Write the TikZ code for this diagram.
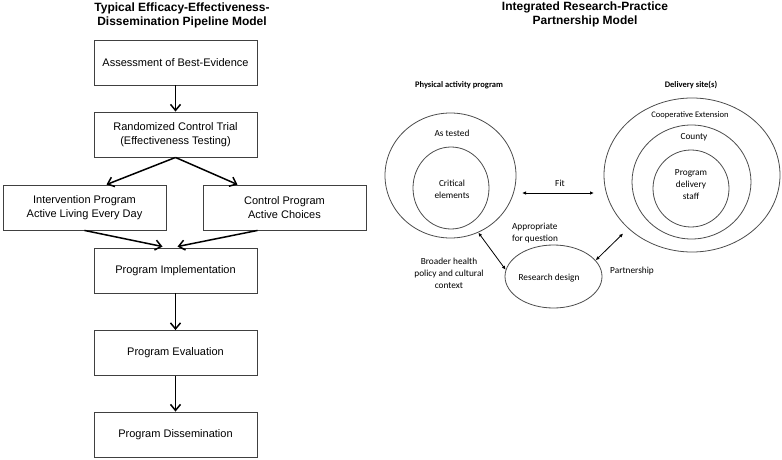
\documentclass[tikz,border=0pt]{standalone}
\usepackage{fontspec}
\setmainfont{Liberation Sans}
\newfontfamily\calibrifont{Carlito}
\usetikzlibrary{arrows.meta,shapes.geometric}
\begin{document}
\begin{tikzpicture}[x=1pt, y=-1pt,
  heading/.style={align=center, inner sep=0pt, font=\bfseries\fontsize{12}{13.4}\selectfont},
  stepbox/.style={draw=black!75, line width=0.9pt, minimum width=163pt, minimum height=45pt,
    align=center, inner sep=0pt, font=\fontsize{11}{13.5}\selectfont},
  flow/.style={line width=1.5pt, -{Straight Barb[length=6pt,width=10pt]}},
  ring/.style={draw=black!70, line width=0.8pt, ellipse, inner sep=0pt},
  lbl/.style={align=center, inner sep=0pt, font=\calibrifont\fontsize{9.3}{12}\selectfont},
  head/.style={lbl, font=\calibrifont\bfseries\fontsize{8.5}{10}\selectfont},
  link/.style={line width=0.8pt, {Latex[length=4pt,width=3.5pt]}-{Latex[length=4pt,width=3.5pt]}}]
  \useasboundingbox (0,0) rectangle (782,460);

  \node[heading] (lefttitle) at (182,15.5) {Typical Efficacy-Effectiveness-\\Dissemination Pipeline Model};
  \node[heading] (righttitle) at (585,14.5) {Integrated Research-Practice\\Partnership Model};

  \node[stepbox] (assess) at (175.5,62.5) {Assessment of Best-Evidence};
  \node[stepbox] (rct) at (175.5,134.5) {Randomized Control Trial\\(Effectiveness Testing)};
  \node[stepbox] (interv) at (84.5,207.5) {Intervention Program\\Active Living Every Day};
  \node[stepbox] (control) at (284.5,207.5) {Control Program\\Active Choices};
  \node[stepbox] (impl) at (175.5,270.5) {Program Implementation};
  \node[stepbox] (eval) at (175.5,353) {Program Evaluation};
  \node[stepbox] (dissem) at (175.5,434.5) {Program Dissemination};

  \draw[flow] (assess) -- (rct);
  \draw[flow] (rct.south) -- ([xshift=22pt]interv.north);
  \draw[flow] (rct.south) -- ([xshift=-47pt]control.north);
  \draw[flow] (interv.south) -- ([xshift=-13pt,yshift=1pt]impl.north);
  \draw[flow] ([xshift=-27pt]control.south) -- ([xshift=2pt,yshift=1pt]impl.north);
  \draw[flow] (impl) -- (eval);
  \draw[flow] (eval) -- (dissem);

  \node[ring, minimum width=131pt, minimum height=125pt] (tested) at (450.5,175.5) {};
  \node[ring, minimum width=76pt, minimum height=82pt] (critical) at (451,188) {};
  \node[ring, minimum width=176pt, minimum height=154pt] (coop) at (692,175) {};
  \node[ring, minimum width=119pt, minimum height=114pt] (county) at (691.5,182) {};
  \node[ring, minimum width=76pt, minimum height=77pt] (staff) at (691,188.5) {};
  \node[ring, minimum width=97pt, minimum height=63pt] (design) at (553.5,276.5) {};

  \node[head] (progtxt) at (459,85) {Physical activity program};
  \node[head] (sitetxt) at (691,85) {Delivery site(s)};
  \node[lbl] (testedtxt) at (452,133) {As tested};
  \node[lbl] (criticaltxt) at (452,189) {Critical\\elements};
  \node[lbl, font=\calibrifont\fontsize{8.5}{10}\selectfont] (cooptxt) at (690,115) {Cooperative Extension};
  \node[lbl] (countytxt) at (694,137) {County};
  \node[lbl] (stafftxt) at (691,185) {Program\\delivery\\staff};
  \node[lbl] (fittxt) at (560,183) {Fit};
  \node[lbl, align=left] (questiontxt) at (535,233) {Appropriate\\for question};
  \node[lbl] (designtxt) at (549,278) {Research design};
  \node[lbl] (policytxt) at (449,273) {Broader health\\policy and cultural\\context};
  \node[lbl] (partnertxt) at (632,271) {Partnership};

  \coordinate (fitL) at (522,193);
  \coordinate (fitR) at (594,193);
  \draw[link] (fitL) -- (fitR);
  \draw[link] (tested.296) -- (design.172);
  \draw[link, shorten >=7pt] (design.21) -- (coop.220);
\end{tikzpicture}
\end{document}
